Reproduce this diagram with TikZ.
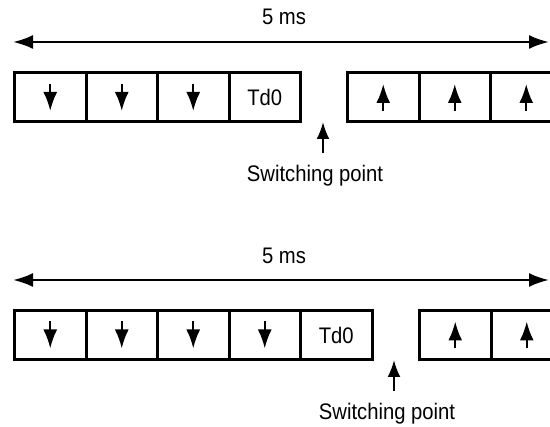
\documentclass[tikz,border=0pt]{standalone}
\usepackage{fontspec}
\setmainfont[FakeStretch=0.9]{Liberation Sans}
\usetikzlibrary{arrows.meta}

\begin{document}
\begin{tikzpicture}[x=1pt, y=-1pt, >={Latex[length=20pt,width=14pt]}, every node/.style={font=\fontsize{22.5}{26}\selectfont}]
    \tikzstyle{cell}=[draw, line width=3pt, minimum width=71.5pt, minimum height=49pt, inner sep=0pt, anchor=west]
    \tikzstyle{span}=[<->, line width=2.5pt]
    \tikzstyle{slot}=[-{Latex[length=19pt,width=14pt]}, line width=2.3pt]
    \tikzstyle{switch}=[-{Latex[length=17pt,width=13pt]}, line width=2.2pt]

    \clip (0,0) rectangle (550,427);

    % top frame: three down slots before Td0
    \coordinate (spanAl) at (13,42);
    \coordinate (spanAr) at (549,42);
    \draw[span] (spanAl) -- (spanAr);
    \node (msA) at (284,17) {5 ms};

    \foreach \i/\x in {1/13, 2/84.5, 3/156} {
        \node[cell] (dnA\i) at (\x,97.5) {};
        \draw[slot] ([yshift=13.5pt]dnA\i.center) -- ([yshift=-13.5pt]dnA\i.center);
    }
    \node[cell] (tdA) at (227.5,97.5) {Td0};
    \foreach \i/\x in {1/346, 2/417.5, 3/489} {
        \node[cell] (upA\i) at (\x,97.5) {};
        \draw[slot] ([yshift=-13.5pt]upA\i.center) -- ([yshift=13.5pt]upA\i.center);
    }

    \node[anchor=base] (swA) at (315,182) {Switching point};
    \coordinate (swAtip) at (323,122);
    \draw[switch, shorten <=9pt] (swA.north -| swAtip) -- (swAtip);

    % bottom frame: four down slots before Td0
    \coordinate (spanBl) at (13,280);
    \coordinate (spanBr) at (549,280);
    \draw[span] (spanBl) -- (spanBr);
    \node (msB) at (284,255.5) {5 ms};

    \foreach \i/\x in {1/13, 2/84.5, 3/156, 4/227.5} {
        \node[cell] (dnB\i) at (\x,335) {};
        \draw[slot] ([yshift=13.5pt]dnB\i.center) -- ([yshift=-13.5pt]dnB\i.center);
    }
    \node[cell] (tdB) at (299,335) {Td0};
    \foreach \i/\x in {1/418, 2/489.5} {
        \node[cell] (upB\i) at (\x,335) {};
        \draw[slot] ([yshift=-13.5pt]upB\i.center) -- ([yshift=13.5pt]upB\i.center);
    }

    \node[anchor=base] (swB) at (387,420) {Switching point};
    \coordinate (swBtip) at (394,360);
    \draw[switch, shorten <=9pt] (swB.north -| swBtip) -- (swBtip);
\end{tikzpicture}
\end{document}
